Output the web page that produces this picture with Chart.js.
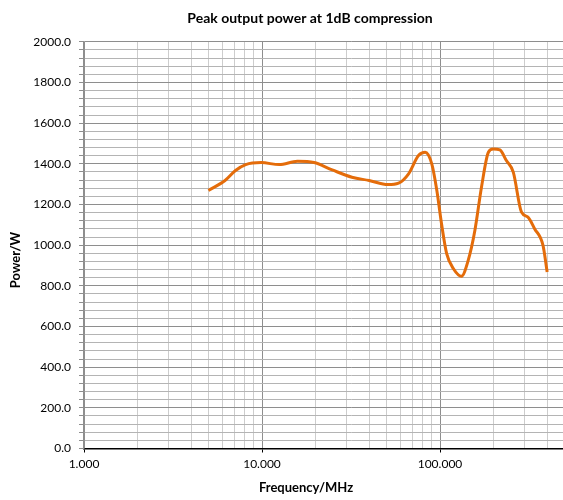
<!DOCTYPE html>
<html>
<head>
<meta charset="utf-8">
<script src="https://cdn.jsdelivr.net/npm/chart.js@4/dist/chart.umd.min.js"></script>
<style>
  html, body { margin: 0; padding: 0; background: #fff; overflow: hidden; }
  #wrap { width: 622px; height: 500px; }
</style>
</head>
<body>
<div id="wrap"><canvas id="myChart" width="622" height="500"></canvas></div>
<script>
// data
var freqMHz = [5, 6.2, 7.1, 8.1, 9.9, 12.5, 15.8, 19.6, 24.8, 32, 40, 51, 58.5, 66.6, 75.7, 82.6,
               89.9, 96, 102, 109, 119, 132, 144, 157, 171, 187, 199, 217, 236, 258, 287, 312, 340, 379, 400];
var powerW  = [1269, 1318, 1367, 1396, 1406, 1396, 1412, 1406, 1370, 1334, 1318, 1298, 1305, 1351, 1441, 1457,
               1400, 1269, 1105, 958, 884, 847, 925, 1072, 1285, 1457, 1473, 1468, 1416, 1359, 1162, 1138, 1081, 999, 868];

var titleText = 'Peak output power at 1dB compression';
var xTitle = 'Frequency/MHz';
var yTitle = 'Power/W';
var xMin = 1, xMax = 1000;
var yMin = 0, yMax = 2000, yStep = 40, yLabelStep = 200;

var font = 'Lato';

function isDecade(v) {
  var l = Math.log10(v);
  return Math.abs(l - Math.round(l)) < 1e-9;
}

// axis titles drawn where Excel puts them (centred on the whole chart)
var axisTitles = {
  id: 'axisTitles',
  afterDraw: function (chart) {
    var c = chart.ctx;
    c.save();
    c.fillStyle = '#000';
    c.font = 'bold 13px ' + font;
    c.textAlign = 'center';
    c.textBaseline = 'middle';
    c.fillText(xTitle, 306, 488);
    c.translate(16, 260);
    c.rotate(-Math.PI / 2);
    c.fillText(yTitle, 0, 0);
    c.restore();
  }
};

var ctx = document.getElementById('myChart').getContext('2d');
var chart = new Chart(ctx, {
  type: 'line',
  data: {
    datasets: [{
      data: freqMHz.map(function (f, i) { return { x: f, y: powerW[i] }; }),
      borderColor: '#E46C0A',
      backgroundColor: 'transparent',
      borderWidth: 3,
      pointRadius: 0,
      cubicInterpolationMode: 'monotone',
      fill: false
    }]
  },
  options: {
    responsive: false,
    animation: false,
    layout: { padding: { left: 0, right: 2, top: 0, bottom: 27.5 } },
    plugins: {
      legend: { display: false },
      tooltip: { enabled: false },
      title: {
        display: true,
        text: titleText,
        color: '#000',
        font: { family: font, size: 14, weight: 'bold' },
        padding: { top: 10, bottom: 15 }
      }
    },
    scales: {
      x: {
        type: 'logarithmic',
        min: xMin,
        max: xMax,
        afterBuildTicks: function (axis) {
          var t = [];
          for (var d = xMin; d < xMax; d *= 10) {
            for (var k = 1; k < 10; k++) t.push({ value: d * k });
          }
          t.push({ value: xMax });
          axis.ticks = t;
        },
        afterFit: function (axis) { axis.height = 24; },
        ticks: {
          autoSkip: false,
          maxRotation: 0,
          padding: 4,
          color: '#000',
          font: { family: font, size: 12 },
          callback: function (v) { return (isDecade(v) && v < xMax) ? Number(v).toFixed(3) : ''; }
        },
        grid: {
          color: function (c) { return isDecade(c.tick.value) ? '#8e8e8e' : '#cdcdcd'; },
          tickColor: function (c) { return isDecade(c.tick.value) ? '#000' : 'rgba(0,0,0,0)'; },
          tickLength: 4,
          lineWidth: 1
        },
        border: { color: '#000', width: 1.5 }
      },
      y: {
        min: yMin,
        max: yMax,
        afterFit: function (axis) { axis.width = 84; },
        ticks: {
          stepSize: yStep,
          autoSkip: false,
          padding: 8,
          color: '#000',
          font: { family: font, size: 12 },
          callback: function (v) { return v % yLabelStep === 0 ? v.toFixed(1) : ''; }
        },
        grid: {
          color: function (c) { return c.tick.value % yLabelStep === 0 ? '#8e8e8e' : '#b4b4b4'; },
          tickColor: '#8e8e8e',
          tickLength: 5,
          lineWidth: 1
        },
        border: { color: '#8e8e8e', width: 1.5 }
      }
    }
  },
  plugins: [axisTitles]
});
</script>
</body>
</html>
